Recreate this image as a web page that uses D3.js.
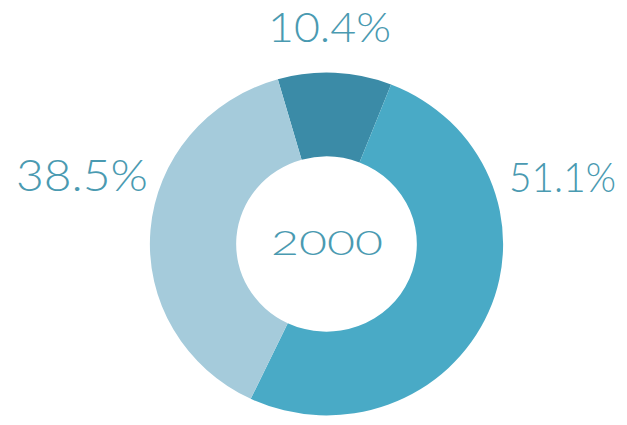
<!DOCTYPE html>
<html>
<head>
<meta charset="utf-8">
<script src="https://cdn.jsdelivr.net/npm/d3@7"></script>
<style>
html,body{margin:0;padding:0;background:#fff;}
svg{display:block;}
text{font-family:"Lato","Open Sans",sans-serif;font-weight:300;fill:#4a9ab1;}
</style>
</head>
<body>
<svg id="chart" width="627" height="425"></svg>
<script>
const categories = ["A", "B", "C"];
const values = [10.4, 51.1, 38.5];
const labels = ["10.4%", "51.1%", "38.5%"];
const centerLabel = "2000";

const colors = ["#3b8ba7", "#49aac6", "#a5cbdb"];
const cx = 326.5, cy = 244, rOuter = 174, rInner = 89;
const labelPos = [
  {x: 268, y: 42, size: 42, len: 123},
  {x: 509, y: 192, size: 41, len: 107},
  {x: 16, y: 191, size: 43, len: 132}
];
const centerPos = {x: 271, y: 255, size: 34, len: 112};

const svg = d3.select("#chart");
const g = svg.append("g").attr("transform", `translate(${cx},${cy}) scale(1.015,0.985)`);

const pie = d3.pie().sort(null).value(d => d)
  .startAngle(-16 * Math.PI / 180).endAngle(344 * Math.PI / 180);
const arc = d3.arc().innerRadius(rInner).outerRadius(rOuter);

const color = d3.scaleOrdinal().domain(categories).range(colors);

g.selectAll("path").data(pie(values)).enter().append("path")
  .attr("d", arc)
  .attr("fill", (d, i) => color(categories[i]));

svg.selectAll("text.lbl").data(labels).enter().append("text")
  .attr("class", "lbl")
  .attr("x", (d, i) => labelPos[i].x)
  .attr("y", (d, i) => labelPos[i].y)
  .attr("font-size", (d, i) => labelPos[i].size)
  .attr("textLength", (d, i) => labelPos[i].len)
  .attr("lengthAdjust", "spacingAndGlyphs")
  .text(d => d);

svg.append("text")
  .attr("x", centerPos.x).attr("y", centerPos.y)
  .attr("font-size", centerPos.size)
  .attr("textLength", centerPos.len)
  .attr("lengthAdjust", "spacingAndGlyphs")
  .text(centerLabel);
</script>
</body>
</html>
